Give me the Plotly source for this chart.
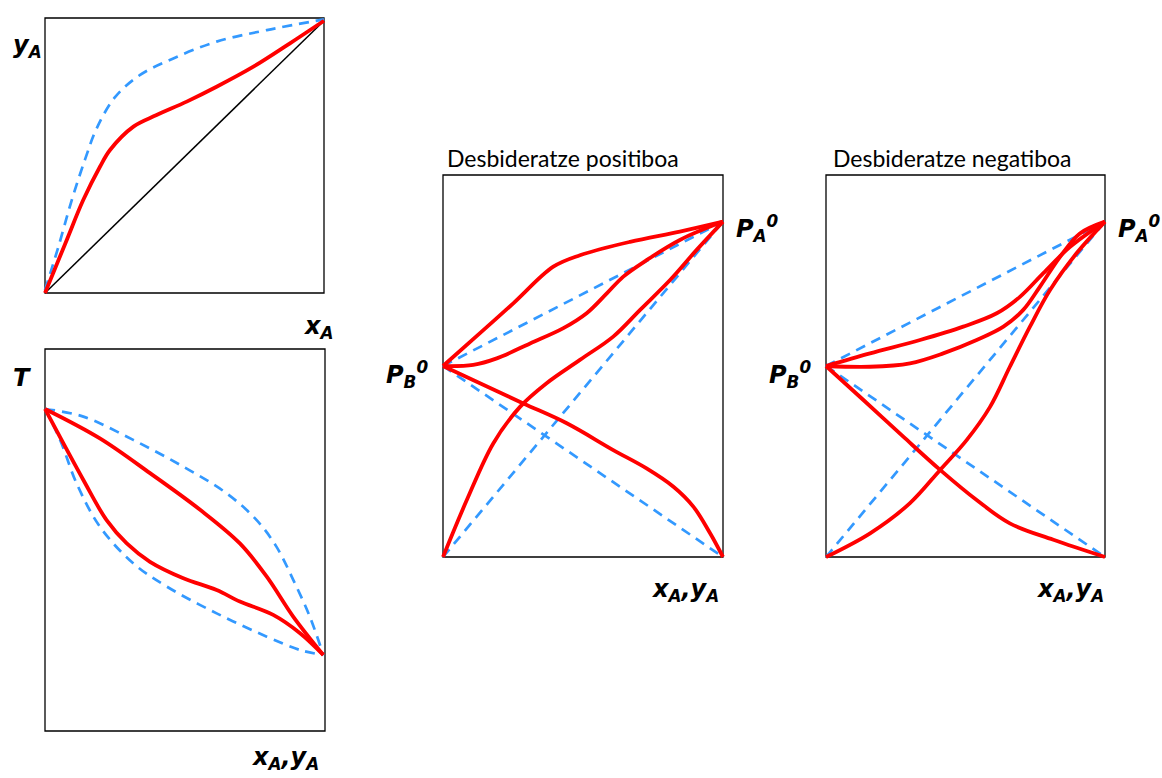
import plotly.graph_objects as go

W, H = 1162, 778

# ---------------- data (normalised 0..1 composition / property) ----------------
# Panel 1: y-x diagram
p1_red_x = [0.0, 0.078, 0.137, 0.197, 0.233, 0.317, 0.40, 0.508, 0.615, 0.747, 0.878, 1.0]
p1_red_y = [0.0, 0.193, 0.338, 0.459, 0.52, 0.605, 0.647, 0.696, 0.75, 0.823, 0.908, 0.99]
p1_blue_x = [0.0, 0.048, 0.096, 0.143, 0.185, 0.251, 0.341, 0.46, 0.615, 0.795, 1.0]
p1_blue_y = [0.01, 0.168, 0.338, 0.484, 0.598, 0.712, 0.793, 0.853, 0.914, 0.956, 0.995]
p1_diag_x = [0.0, 1.0]
p1_diag_y = [0.0, 0.99]

# Panel 2: T-x,y diagram
p2_up_red_x = [0.0, 0.196, 0.375, 0.554, 0.696, 0.792, 0.887, 0.994]
p2_up_red_y = [0.843, 0.766, 0.675, 0.579, 0.491, 0.404, 0.299, 0.199]
p2_lo_red_x = [0.0, 0.137, 0.220, 0.292, 0.375, 0.494, 0.613, 0.696, 0.815, 0.911, 0.994]
p2_lo_red_y = [0.843, 0.657, 0.552, 0.491, 0.443, 0.400, 0.369, 0.339, 0.304, 0.256, 0.199]
p2_up_blue_x = [0.0, 0.137, 0.315, 0.494, 0.649, 0.756, 0.827, 0.887, 0.946, 0.994]
p2_up_blue_y = [0.843, 0.823, 0.762, 0.692, 0.622, 0.552, 0.482, 0.395, 0.299, 0.199]
p2_lo_blue_x = [0.0, 0.054, 0.113, 0.196, 0.315, 0.435, 0.613, 0.792, 0.911, 0.994]
p2_lo_blue_y = [0.843, 0.762, 0.648, 0.535, 0.439, 0.378, 0.308, 0.247, 0.212, 0.199]

# Panel 3: positive deviation (P-x,y)
PB0 = 0.5
PA0 = 0.878
p3_top_x = [0.0, 0.132, 0.251, 0.394, 0.489, 0.668, 0.846, 1.0]
p3_top_y = [PB0, 0.586, 0.664, 0.76, 0.79, 0.825, 0.852, PA0]
p3_mid_x = [0.0, 0.108, 0.192, 0.311, 0.43, 0.513, 0.585, 0.644, 0.727, 0.846, 1.0]
p3_mid_y = [PB0, 0.503, 0.52, 0.559, 0.599, 0.638, 0.69, 0.734, 0.777, 0.83, PA0]
p3_pa_x = [0.0, 0.085, 0.18, 0.275, 0.37, 0.489, 0.608, 0.704, 0.811, 0.906, 1.0]
p3_pa_y = [0.0, 0.149, 0.298, 0.393, 0.455, 0.516, 0.577, 0.647, 0.725, 0.804, PA0]
p3_pb_x = [0.0, 0.132, 0.287, 0.442, 0.608, 0.727, 0.823, 0.894, 0.954, 1.0]
p3_pb_y = [PB0, 0.455, 0.402, 0.35, 0.28, 0.232, 0.184, 0.132, 0.062, 0.0]

# Panel 4: negative deviation (P-x,y)
p4_top_x = [0.0, 0.158, 0.337, 0.492, 0.612, 0.695, 0.779, 0.875, 1.0]
p4_top_y = [PB0, 0.533, 0.568, 0.603, 0.638, 0.681, 0.743, 0.812, PA0]
p4_mid_x = [0.0, 0.158, 0.301, 0.42, 0.54, 0.636, 0.707, 0.767, 0.839, 0.91, 1.0]
p4_mid_y = [PB0, 0.498, 0.507, 0.533, 0.568, 0.603, 0.647, 0.708, 0.786, 0.847, PA0]
p4_pa_x = [0.0, 0.158, 0.301, 0.409, 0.504, 0.588, 0.659, 0.731, 0.803, 0.898, 1.0]
p4_pa_y = [0.0, 0.062, 0.141, 0.228, 0.306, 0.393, 0.498, 0.603, 0.699, 0.795, PA0]
p4_pb_x = [0.0, 0.134, 0.277, 0.409, 0.54, 0.659, 0.815, 1.0]
p4_pb_y = [PB0, 0.411, 0.315, 0.228, 0.149, 0.088, 0.045, 0.0]

# Raoult (ideal) straight lines
ideal_pa_x = [0.0, 1.0]
ideal_pa_y = [0.0, PA0]
ideal_pb_x = [0.0, 1.0]
ideal_pb_y = [PB0, 0.0]
ideal_tot_x = [0.0, 1.0]
ideal_tot_y = [PB0, PA0]

# ---------------- layout helpers ----------------
RED = "#FF0000"
BLUE = "#3399FF"
PAD = 0.03

# pixel boxes (x0, x1, y0_top, y1_bottom)
boxes = {
    1: (45, 324, 18, 293),
    2: (45, 325, 349, 731),
    3: (443, 723, 175, 557),
    4: (826, 1105, 175, 557),
}

fig = go.Figure()
layout_axes = {}
for i, (x0, x1, yt, yb) in boxes.items():
    wx = x1 - x0
    wy = yb - yt
    dx0 = (x0 - PAD * wx) / W
    dx1 = (x1 + PAD * wx) / W
    dy0 = 1 - (yb + PAD * wy) / H
    dy1 = 1 - (yt - PAD * wy) / H
    sfx = "" if i == 1 else str(i)
    ax = dict(range=[-PAD, 1 + PAD], domain=[dx0, dx1], showgrid=False, zeroline=False,
              showticklabels=False, ticks="", showline=False, fixedrange=True)
    ay = dict(range=[-PAD, 1 + PAD], domain=[dy0, dy1], showgrid=False, zeroline=False,
              showticklabels=False, ticks="", showline=False, fixedrange=True)
    layout_axes["xaxis" + sfx] = dict(ax, anchor="y" + sfx)
    layout_axes["yaxis" + sfx] = dict(ay, anchor="x" + sfx)
    fig.add_shape(type="rect", xref="x" + sfx, yref="y" + sfx, x0=0, x1=1, y0=0, y1=1,
                  line=dict(color="black", width=1.3), layer="below")


def add(i, xs, ys, color, width, dash="solid", shape="spline"):
    sfx = "" if i == 1 else str(i)
    fig.add_trace(go.Scatter(x=xs, y=ys, mode="lines", xaxis="x" + sfx, yaxis="y" + sfx,
                             line=dict(color=color, width=width, dash=dash, shape=shape,
                                       smoothing=1.0),
                             hoverinfo="skip", showlegend=False))


DASH = "10px,7px"
BW = 2.7
RW = 3.8
# panel 1
add(1, p1_diag_x, p1_diag_y, "black", 1.5, shape="linear")
add(1, p1_blue_x, p1_blue_y, BLUE, BW, DASH)
add(1, p1_red_x, p1_red_y, RED, RW)
# panel 2
add(2, p2_up_blue_x, p2_up_blue_y, BLUE, BW, DASH)
add(2, p2_lo_blue_x, p2_lo_blue_y, BLUE, BW, DASH)
add(2, p2_up_red_x, p2_up_red_y, RED, RW)
add(2, p2_lo_red_x, p2_lo_red_y, RED, RW)
# panels 3, 4
for i in (3, 4):
    add(i, ideal_pa_x, ideal_pa_y, BLUE, BW, DASH, "linear")
    add(i, ideal_pb_x, ideal_pb_y, BLUE, BW, DASH, "linear")
    add(i, ideal_tot_x, ideal_tot_y, BLUE, BW, DASH, "linear")
add(3, p3_top_x, p3_top_y, RED, RW)
add(3, p3_mid_x, p3_mid_y, RED, RW)
add(3, p3_pa_x, p3_pa_y, RED, RW)
add(3, p3_pb_x, p3_pb_y, RED, RW)
add(4, p4_top_x, p4_top_y, RED, RW)
add(4, p4_mid_x, p4_mid_y, RED, RW)
add(4, p4_pa_x, p4_pa_y, RED, RW)
add(4, p4_pb_x, p4_pb_y, RED, RW)

# ---------------- text ----------------
LBL_FONT = dict(family="DejaVu Sans", size=24, color="black")
TTL_FONT = dict(family="Lato", size=23, color="black")


def label(px, py, text, font=LBL_FONT):
    fig.add_annotation(x=px / W, y=1 - py / H, xref="paper", yref="paper", text=text,
                       showarrow=False, font=font, xanchor="center", yanchor="middle")


label(27, 46, "<b><i>y<sub>A</sub></i></b>")
label(318, 327, "<b><i>x<sub>A</sub></i></b>")
label(22, 378, "<b><i>T</i></b>")
label(285, 758, "<b><i>x<sub>A</sub>,y<sub>A</sub></i></b>")
label(407, 374, "<b><i>P<sub>B</sub><sup>0</sup></i></b>")
label(757, 228, "<b><i>P<sub>A</sub><sup>0</sup></i></b>")
label(685, 590, "<b><i>x<sub>A</sub>,y<sub>A</sub></i></b>")
label(790, 374, "<b><i>P<sub>B</sub><sup>0</sup></i></b>")
label(1139, 228, "<b><i>P<sub>A</sub><sup>0</sup></i></b>")
label(1070, 590, "<b><i>x<sub>A</sub>,y<sub>A</sub></i></b>")
label(563, 158, "Desbideratze positiboa", TTL_FONT)
label(952, 158, "Desbideratze negatiboa", TTL_FONT)

fig.update_layout(width=W, height=H, margin=dict(l=0, r=0, t=0, b=0, pad=0),
                  paper_bgcolor="white", plot_bgcolor="white", showlegend=False,
                  **layout_axes)

fig.write_html("out.html")
